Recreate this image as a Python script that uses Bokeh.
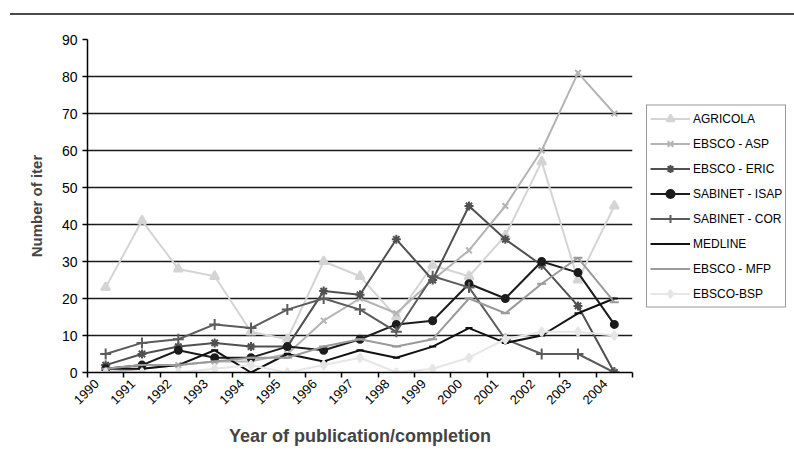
import math
from bokeh.plotting import figure
from bokeh.models import FixedTicker, Legend, LegendItem, Div
from bokeh.layouts import column
from bokeh.embed import file_html
from bokeh.resources import INLINE

years = ["1990", "1991", "1992", "1993", "1994", "1995", "1996", "1997",
         "1998", "1999", "2000", "2001", "2002", "2003", "2004"]

agricola = [23, 41, 28, 26, 11, 9, 30, 26, 15, 29, 26, 37, 57, 25, 45]
ebsco_asp = [0, 1, 2, 3, 3, 5, 14, 20, 16, 25, 33, 45, 60, 81, 70]
ebsco_eric = [2, 5, 7, 8, 7, 7, 22, 21, 36, 25, 45, 36, 29, 18, 0]
sabinet_isap = [1, 2, 6, 4, 4, 7, 6, 9, 13, 14, 24, 20, 30, 27, 13]
sabinet_cor = [5, 8, 9, 13, 12, 17, 20, 17, 11, 26, 23, 9, 5, 5, 0]
medline = [1, 1, 2, 6, 0, 5, 3, 6, 4, 7, 12, 8, 10, 16, 20]
ebsco_mfp = [1, 2, 2, 3, 4, 4, 7, 9, 7, 9, 20, 16, 24, 31, 19]
ebsco_bsp = [0, 0, 0, 1, 2, 0, 2, 4, 0, 1, 4, 9, 11, 11, 10]

y_ticks = [0, 10, 20, 30, 40, 50, 60, 70, 80, 90]

FONT = "Liberation Sans"

series = [
    ("AGRICOLA", agricola, "#d4d4d4", "triangle", 9),
    ("EBSCO - ASP", ebsco_asp, "#b4b4b4", "x", 8),
    ("EBSCO - ERIC", ebsco_eric, "#505050", "asterisk", 9),
    ("SABINET - ISAP", sabinet_isap, "#1c1c1c", "circle", 7),
    ("SABINET - COR", sabinet_cor, "#5c5c5c", "cross", 11),
    ("MEDLINE", medline, "#111111", "dash", 7),
    ("EBSCO - MFP", ebsco_mfp, "#9a9a9a", "dash", 9),
    ("EBSCO-BSP", ebsco_bsp, "#e6e6e6", "diamond", 9),
]

xs = [i + 0.5 for i in range(len(years))]
label_pos = [i + 0.25 for i in range(len(years))]

p = figure(frame_width=545, frame_height=333, x_range=(0, len(years)), y_range=(0, 90),
           output_backend="svg", toolbar_location=None,
           min_border_left=87, min_border_right=150, min_border_top=19, min_border_bottom=81)
p.outline_line_color = None
p.background_fill_color = "white"
p.border_fill_color = "white"

# x axis
p.xaxis.ticker = FixedTicker(ticks=label_pos, minor_ticks=list(range(len(years) + 1)))
p.xaxis.major_label_overrides = {x: y for x, y in zip(label_pos, years)}
p.xaxis.major_label_orientation = math.pi / 4
p.xaxis.major_tick_out = 0
p.xaxis.major_tick_in = 0
p.xaxis.minor_tick_out = 5
p.xaxis.minor_tick_in = 0
p.xaxis.minor_tick_line_color = "black"
p.xaxis.minor_tick_line_width = 1.5
p.xaxis.axis_line_color = "black"
p.xaxis.axis_line_width = 1.5
p.xaxis.axis_label = "Year of publication/completion"
p.xaxis.axis_label_text_font = FONT
p.xaxis.axis_label_text_font_style = "bold"
p.xaxis.axis_label_text_font_size = "18px"
p.xaxis.axis_label_standoff = 15
p.xaxis.major_label_text_font = FONT
p.xaxis.major_label_text_font_size = "13px"
p.xaxis.major_label_text_color = "black"
p.xaxis.major_label_standoff = 4

# y axis
p.yaxis.ticker = FixedTicker(ticks=y_ticks, minor_ticks=[])
p.yaxis.major_tick_out = 5
p.yaxis.major_tick_in = 0
p.yaxis.major_tick_line_color = "black"
p.yaxis.major_tick_line_width = 1.5
p.yaxis.axis_line_color = "black"
p.yaxis.axis_line_width = 1.5
p.yaxis.axis_label = "Number of iter"
p.yaxis.axis_label_text_font = FONT
p.yaxis.axis_label_text_font_style = "bold"
p.yaxis.axis_label_text_font_size = "15px"
p.yaxis.axis_label_standoff = 14
p.yaxis.major_label_text_font = FONT
p.yaxis.major_label_text_font_size = "14px"
p.yaxis.major_label_text_color = "black"
p.yaxis.major_label_standoff = 5

p.xgrid.visible = False
p.ygrid.ticker = FixedTicker(ticks=y_ticks)
p.ygrid.grid_line_color = "#1a1a1a"
p.ygrid.grid_line_width = 1.6

items = []
for label, vals, color, marker, size in series:
    lr = p.line(xs, vals, line_color=color, line_width=2)
    sr = p.scatter(xs, vals, marker=marker, size=size, line_color=color,
                   fill_color=color, line_width=2)
    items.append(LegendItem(label=label, renderers=[lr, sr]))

legend = Legend(items=items, location="left")
legend.border_line_color = "#333333"
legend.border_line_width = 1.2
legend.background_fill_color = "white"
legend.background_fill_alpha = 1.0
legend.label_text_font = FONT
legend.label_text_font_size = "12px"
legend.label_text_color = "black"
legend.glyph_width = 40
legend.glyph_height = 20
legend.label_height = 20
legend.label_standoff = 3
legend.spacing = 5
legend.padding = 3
legend.margin = 14
p.add_layout(legend, "right")

top_line = Div(text="", width=784, height=10,
               styles={"border-bottom": "2px solid #4a4a4a", "margin-left": "10px"})

layout = column(top_line, p, spacing=0)

open("out.html", "w").write(file_html(layout, INLINE))
